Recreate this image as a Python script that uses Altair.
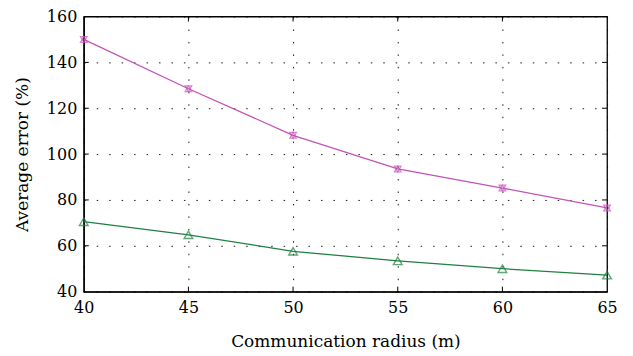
import altair as alt
import pandas as pd

radius = [40, 45, 50, 55, 60, 65]
series_a = [150.0, 128.5, 108.2, 93.5, 85.2, 76.5]
series_b = [70.5, 64.8, 57.6, 53.4, 50.0, 47.2]
y_ticks = [40, 60, 80, 100, 120, 140, 160]
x_ticks = [40, 45, 50, 55, 60, 65]

df = pd.DataFrame({
    "r": radius * 2,
    "v": series_a + series_b,
    "s": ["A"] * 6 + ["B"] * 6,
})
da = df[df.s == "A"]
db = df[df.s == "B"]

MAG = "#C452B6"
GRN = "#1E8040"
FONT = "DejaVu Serif"

xs = alt.Scale(domain=[40, 65], nice=False)
ys = alt.Scale(domain=[40, 160], nice=False)

X = alt.X("r:Q", scale=xs, title="Communication radius (m)",
          axis=alt.Axis(values=x_ticks, grid=True, gridColor="black", gridDash=[1.5, 11],
                        gridOpacity=0.9, tickSize=0, labelPadding=8, titlePadding=18,
                        labelFlush=False, domainColor="black"))
Y = alt.Y("v:Q", scale=ys, title="Average error (%)",
          axis=alt.Axis(values=y_ticks, grid=True, gridColor="black", gridDash=[1.5, 11],
                        gridOpacity=0.9, tickSize=0, labelPadding=7, titlePadding=15,
                        labelFlush=False, domainColor="black"))

line_a = alt.Chart(da).mark_line(color=MAG, strokeWidth=1.3).encode(x=X, y=Y)
line_b = alt.Chart(db).mark_line(color=GRN, strokeWidth=1.3).encode(x=X, y=Y)
star_up = alt.Chart(da).mark_point(shape="triangle-up", color=MAG, size=45, strokeWidth=1.2).encode(x=X, y=Y)
star_dn = alt.Chart(da).mark_point(shape="triangle-down", color=MAG, size=45, strokeWidth=1.2).encode(x=X, y=Y)
tri = alt.Chart(db).mark_point(shape="triangle-up", color=GRN, size=75, strokeWidth=1.4,
                               filled=False).encode(x=X, y=Y)

yt = pd.DataFrame({"v": y_ticks[1:-1]})
xt = pd.DataFrame({"r": x_ticks[1:-1]})
tick_l = alt.Chart(yt).mark_rule(color="black").encode(y=alt.Y("v:Q", scale=ys), x=alt.value(0), x2=alt.value(5))
tick_r = alt.Chart(yt).mark_rule(color="black").encode(y=alt.Y("v:Q", scale=ys), x=alt.value(520), x2=alt.value(525))
tick_b = alt.Chart(xt).mark_rule(color="black").encode(x=alt.X("r:Q", scale=xs), y=alt.value(271), y2=alt.value(276))
tick_t = alt.Chart(xt).mark_rule(color="black").encode(x=alt.X("r:Q", scale=xs), y=alt.value(0), y2=alt.value(5))

chart = alt.layer(line_a, line_b, star_up, star_dn, tri, tick_l, tick_r, tick_b, tick_t).properties(
    width=525, height=276,
    autosize=alt.AutoSizeParams(type="none"),
    padding={"left": 76, "top": 8, "right": 18, "bottom": 62},
).configure_view(stroke="black", strokeWidth=1.3).configure_axis(
    labelFont=FONT, titleFont=FONT, labelFontSize=16, titleFontSize=17,
    labelColor="black", titleColor="black", titleFontWeight="normal", domainWidth=1.3,
)

chart.save("out.html", embed_options={"renderer": "svg", "actions": False})
